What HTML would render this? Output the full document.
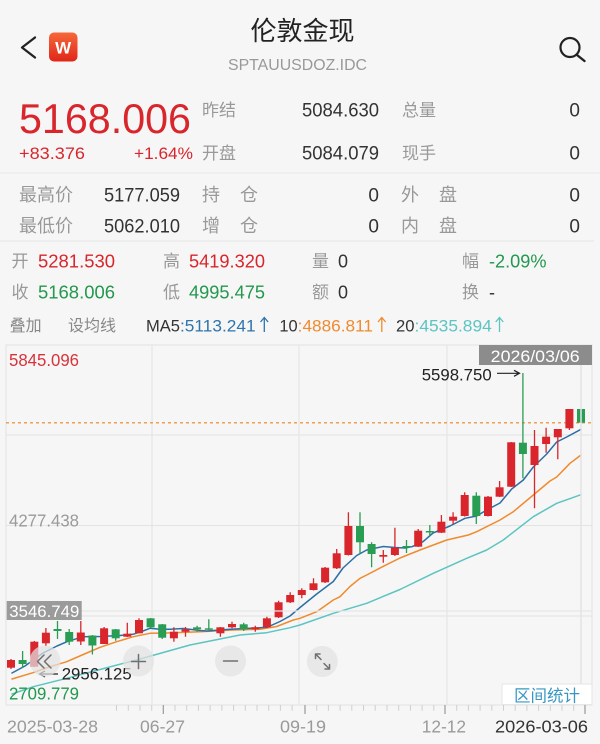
<!DOCTYPE html>
<html><head><meta charset="utf-8">
<style>
html,body{margin:0;padding:0;background:#f6f6f6;}
svg{display:block;}
text{font-family:"Liberation Sans","Noto Sans CJK SC",sans-serif;}
</style></head>
<body>
<svg width="600" height="744" viewBox="0 0 600 744" xmlns="http://www.w3.org/2000/svg">
<defs>
<linearGradient id="wg" x1="0" y1="0" x2="0" y2="1"><stop offset="0" stop-color="#f6683a"/><stop offset="1" stop-color="#e0261a"/></linearGradient>
</defs>
<rect width="600" height="744" fill="#f6f6f6"/>

<!-- header -->
<path d="M35,37.5 L22,47.5 L35,57.5" fill="none" stroke="#222" stroke-width="2.3" stroke-linecap="round" stroke-linejoin="round"/>
<rect x="49" y="32.5" width="28.5" height="29" rx="5" fill="url(#wg)"/>
<text x="63.2" y="53.5" font-size="17" font-weight="bold" fill="#fff" text-anchor="middle">W</text>
<text x="302.5" y="40" font-size="26" fill="#222" text-anchor="middle">伦敦金现</text>
<text x="228" y="70" font-size="16" fill="#999" textLength="139" lengthAdjust="spacingAndGlyphs">SPTAUUSDOZ.IDC</text>
<circle cx="570" cy="47.5" r="9.5" fill="none" stroke="#222" stroke-width="2.2"/>
<path d="M577,55 L584.5,61" stroke="#222" stroke-width="2.4" stroke-linecap="round"/>

<text x="19" y="133" font-size="42" fill="#d8262c" textLength="172" lengthAdjust="spacingAndGlyphs">5168.006</text>
<text x="19" y="159" font-size="17" fill="#d8262c" textLength="66" lengthAdjust="spacingAndGlyphs">+83.376</text>
<text x="134" y="159" font-size="17" fill="#d8262c" textLength="59" lengthAdjust="spacingAndGlyphs">+1.64%</text>
<text x="202" y="116" font-size="17" fill="#999">昨结</text>
<text x="202" y="159" font-size="17" fill="#999">开盘</text>
<text x="302" y="116.5" font-size="19" fill="#333" textLength="77" lengthAdjust="spacingAndGlyphs">5084.630</text>
<text x="302" y="159.5" font-size="19" fill="#333" textLength="77" lengthAdjust="spacingAndGlyphs">5084.079</text>
<text x="402" y="116" font-size="17" fill="#999">总量</text>
<text x="402" y="159" font-size="17" fill="#999">现手</text>
<text x="580" y="116.5" font-size="19" fill="#333" text-anchor="end">0</text>
<text x="580" y="159.5" font-size="19" fill="#333" text-anchor="end">0</text>
<line x1="0" y1="173" x2="600" y2="173" stroke="#e8e8e8" stroke-width="1"/>

<text x="19" y="201" font-size="18" fill="#999">最高价</text>
<text x="19" y="232" font-size="18" fill="#999">最低价</text>
<text x="104" y="201.5" font-size="19" fill="#333" textLength="76" lengthAdjust="spacingAndGlyphs">5177.059</text>
<text x="104" y="232.5" font-size="19" fill="#333" textLength="76" lengthAdjust="spacingAndGlyphs">5062.010</text>
<text x="202" y="201" font-size="18" fill="#999">持</text><text x="240" y="201" font-size="18" fill="#999">仓</text>
<text x="202" y="232" font-size="18" fill="#999">增</text><text x="240" y="232" font-size="18" fill="#999">仓</text>
<text x="379" y="201.5" font-size="19" fill="#333" text-anchor="end">0</text>
<text x="379" y="232.5" font-size="19" fill="#333" text-anchor="end">0</text>
<text x="401" y="201" font-size="18" fill="#999">外</text><text x="439" y="201" font-size="18" fill="#999">盘</text>
<text x="401" y="232" font-size="18" fill="#999">内</text><text x="439" y="232" font-size="18" fill="#999">盘</text>
<text x="580" y="201.5" font-size="19" fill="#333" text-anchor="end">0</text>
<text x="580" y="232.5" font-size="19" fill="#333" text-anchor="end">0</text>
<line x1="0" y1="241" x2="594" y2="241" stroke="#e6e6e6" stroke-width="1"/>

<text x="11.5" y="267" font-size="17" fill="#999">开</text>
<text x="38" y="267.7" font-size="18" fill="#d8262c" textLength="77" lengthAdjust="spacingAndGlyphs">5281.530</text>
<text x="163" y="267" font-size="17" fill="#999">高</text>
<text x="189" y="267.7" font-size="18" fill="#d8262c" textLength="76" lengthAdjust="spacingAndGlyphs">5419.320</text>
<text x="312" y="267" font-size="17" fill="#999">量</text>
<text x="338" y="267.7" font-size="18" fill="#333">0</text>
<text x="462" y="267" font-size="17" fill="#999">幅</text>
<text x="489" y="267.7" font-size="18" fill="#23984e" textLength="57.5" lengthAdjust="spacingAndGlyphs">-2.09%</text>

<text x="11.5" y="298" font-size="17" fill="#999">收</text>
<text x="38" y="298.7" font-size="18" fill="#23984e" textLength="77" lengthAdjust="spacingAndGlyphs">5168.006</text>
<text x="163" y="298" font-size="17" fill="#999">低</text>
<text x="189" y="298.7" font-size="18" fill="#23984e" textLength="76" lengthAdjust="spacingAndGlyphs">4995.475</text>
<text x="312" y="298" font-size="17" fill="#999">额</text>
<text x="338" y="298.7" font-size="18" fill="#333">0</text>
<text x="462" y="298" font-size="17" fill="#999">换</text>
<text x="489" y="298.7" font-size="18" fill="#333">-</text>

<text x="9.6" y="331" font-size="16" fill="#888">叠加</text>
<text x="68" y="331" font-size="16" fill="#888">设均线</text>
<text x="146" y="331.5" font-size="17" fill="#333" textLength="34" lengthAdjust="spacingAndGlyphs">MA5</text>
<text x="180" y="331.5" font-size="17" fill="#2f74ad" textLength="75.6" lengthAdjust="spacingAndGlyphs">:5113.241</text>
<path d="M264.3,332 V318 M260.5,322 L264.3,317.5 L268.1,322" fill="none" stroke="#2f74ad" stroke-width="1.3"/>
<text x="279.4" y="331.5" font-size="17" fill="#333" textLength="18.3" lengthAdjust="spacingAndGlyphs">10</text>
<text x="297.7" y="331.5" font-size="17" fill="#f08a2e" textLength="75.3" lengthAdjust="spacingAndGlyphs">:4886.811</text>
<path d="M381.8,332 V318 M378,322 L381.8,317.5 L385.6,322" fill="none" stroke="#f08a2e" stroke-width="1.3"/>
<text x="396" y="331.5" font-size="17" fill="#333" textLength="18.5" lengthAdjust="spacingAndGlyphs">20</text>
<text x="414.5" y="331.5" font-size="17" fill="#5cc4c1" textLength="77.3" lengthAdjust="spacingAndGlyphs">:4535.894</text>
<path d="M499.5,332 V318 M495.7,322 L499.5,317.5 L503.3,322" fill="none" stroke="#5cc4c1" stroke-width="1.3"/>

<!-- chart frame & grid -->
<g stroke="#e3e3e3" stroke-width="1" fill="none">
<rect x="6" y="345" width="586" height="360"/>
<line x1="6" y1="435" x2="592" y2="435"/>
<line x1="6" y1="525.5" x2="592" y2="525.5"/>
<line x1="6" y1="616" x2="592" y2="616"/>
<line x1="152" y1="345" x2="152" y2="705"/>
<line x1="299" y1="345" x2="299" y2="705"/>
<line x1="447" y1="345" x2="447" y2="705"/>
</g>
<line x1="6" y1="422.7" x2="592" y2="422.7" stroke="#f0a050" stroke-width="1.5" stroke-dasharray="3,3"/>

<!-- MA lines -->
<g fill="none" stroke-width="1.5" stroke-linejoin="round" stroke-linecap="round">
<polyline stroke="#5cc4c1" points="12,694 33.3,686.7 66.7,678.3 100,669.5 140,659 190,645 240,635 266.7,632.7 290,627.7 300,625 333.3,613.3 366.7,603.3 400,589.5 433.3,573.3 466.7,558.3 486.7,550 503.3,540 533.3,516.7 556.7,503.3 581,494.7"/>
<polyline stroke="#f08a2e" points="12,679 33,672.7 50,666.7 66.7,661.7 83.3,654.5 100,647.3 116.7,641.7 133.3,636.7 150,633.3 166.7,633 200,631.7 233,630 260,629.3 276.7,626.5 293.3,620 300,618.3 316.7,611.7 333.3,600 340,596.7 350,586.5 360,578.3 366.7,575 383.3,566.3 400,558 420,550 446.7,540 468.3,535 476.7,531.7 500,520 513.3,511.7 533.3,495 550,481 556.7,477 570,463.3 581,455"/>
<polyline stroke="#2c6fa6" points="12,673 25,666 43,653 57,646 67,641.7 83,636.7 100,636.5 120,635.5 133,634.3 143,631 150,628.3 160,629.3 170,629.3 183,628.5 200,630.5 207,631 230,629.3 250,628.3 267,627.3 280,621.5 290,616 300,607.5 316.7,594 333.3,581.5 343,568 356.7,555.5 366.7,550 383.3,546.5 395,547.5 405,548 412,546.7 423,541.7 433,533 450,526 465,518.3 476.7,516 486.7,510 500,503 511.7,489 523.3,480 533.3,467 546.7,454 556.7,442 566.7,437 581,429.3"/>
</g>

<!-- red candles -->
<g stroke="#d8262c" stroke-width="1.3">
<path d="M11,659V669 M34.3,641V667 M45.9,628V646 M80.8,621V645 M104.1,627V644 M127.3,622.7V637 M139,618.3V633.5 M173.9,627.3V641.7 M185.5,627V636.7 M220.4,627V636.7 M232,621.7V628.3 M255.3,625.7V631.7 M266.9,616.7V628 M278.6,600.7V618 M290.2,592.3V603 M301.8,588.3V598.3 M313.5,578.3V590.5 M325.1,567V583 M336.7,549V569 M348.4,512.3V555.5 M383.3,550V562.7 M394.9,527.7V556 M418.2,529V547 M441.4,515V533 M453.1,512.3V524 M464.7,492.3V516.5 M488,496V516.5 M499.6,481V497 M511.2,442V487 M534.5,430V508.3 M546.1,427.7V452.7 M557.8,429V459.3 M569.4,409V430"/>
</g>
<g fill="#d8262c">
<rect x="7" y="660" width="8" height="7.7"/>
<rect x="30.3" y="641.7" width="8" height="25"/>
<rect x="41.9" y="632.7" width="8" height="10.6"/>
<rect x="76.8" y="632.5" width="8" height="9"/>
<rect x="100.1" y="628.3" width="8" height="15.7"/>
<rect x="123.3" y="633.7" width="8" height="3"/>
<rect x="135" y="620" width="8" height="13.3"/>
<rect x="169.9" y="631.7" width="8" height="6.6"/>
<rect x="181.5" y="629.3" width="8" height="2.4"/>
<rect x="216.4" y="627.3" width="8" height="6"/>
<rect x="228" y="624" width="8" height="3.3"/>
<rect x="251.3" y="627.3" width="8" height="2"/>
<rect x="262.9" y="618.3" width="8" height="9"/>
<rect x="274.6" y="602.3" width="8" height="15"/>
<rect x="286.2" y="595" width="8" height="7.3"/>
<rect x="297.8" y="590" width="8" height="5"/>
<rect x="309.5" y="583.3" width="8" height="6.7"/>
<rect x="321.1" y="567.7" width="8" height="14.6"/>
<rect x="332.7" y="553.3" width="8" height="15"/>
<rect x="344.4" y="526" width="8" height="29"/>
<rect x="379.3" y="555" width="8" height="1.7"/>
<rect x="390.9" y="547.7" width="8" height="7.3"/>
<rect x="414.2" y="530.7" width="8" height="16"/>
<rect x="437.4" y="521.7" width="8" height="11"/>
<rect x="449.1" y="516.7" width="8" height="4"/>
<rect x="460.7" y="495" width="8" height="21"/>
<rect x="484" y="496.7" width="8" height="19.3"/>
<rect x="495.6" y="487.3" width="8" height="9.4"/>
<rect x="507.2" y="442.3" width="8" height="44.4"/>
<rect x="530.5" y="446" width="8" height="19"/>
<rect x="542.1" y="436.7" width="8" height="7.3"/>
<rect x="553.8" y="429" width="8" height="8.3"/>
<rect x="565.4" y="409" width="8" height="19.3"/>
</g>

<!-- green candles -->
<g stroke="#2a9d55" stroke-width="1.3">
<path d="M22.6,651V668 M57.5,621V639 M69.2,629V645 M92.4,635V654.5 M115.7,629V640.7 M150.6,618V628 M162.2,624V639 M197.1,625.7V631.7 M208.8,619.3V630 M243.7,622.7V631 M360,512.3V553.3 M371.6,542.3V567.3 M406.5,540V553 M429.8,525V536 M476.3,492.3V524 M522.9,373V478.3 M581,409V423"/>
</g>
<g fill="#2a9d55">
<rect x="18.6" y="660" width="8" height="4"/>
<rect x="53.5" y="629" width="8" height="2"/>
<rect x="65.2" y="632" width="8" height="9.7"/>
<rect x="88.4" y="635.5" width="8" height="10"/>
<rect x="111.7" y="629.3" width="8" height="9"/>
<rect x="146.6" y="618.3" width="8" height="9"/>
<rect x="158.2" y="624.3" width="8" height="13.4"/>
<rect x="193.1" y="627.3" width="8" height="2"/>
<rect x="204.8" y="628.3" width="8" height="1.5"/>
<rect x="239.7" y="624.3" width="8" height="5"/>
<rect x="356" y="526" width="8" height="16.3"/>
<rect x="367.6" y="544" width="8" height="10"/>
<rect x="402.5" y="546" width="8" height="1.5"/>
<rect x="425.8" y="531" width="8" height="1.5"/>
<rect x="472.3" y="495.7" width="8" height="20.3"/>
<rect x="518.9" y="442.7" width="8" height="11.3"/>
<rect x="577" y="409" width="8" height="13.7"/>
</g>

<!-- overlay lines -->
<line x1="6" y1="611" x2="592" y2="611" stroke="#e6e6e6" stroke-width="1.2"/>
<line x1="581" y1="345" x2="581" y2="705" stroke="#e4e4e4" stroke-width="1.5"/>

<!-- price labels -->
<text x="9" y="366" font-size="17.5" fill="#d8333a" textLength="70" lengthAdjust="spacingAndGlyphs">5845.096</text>
<text x="9" y="526.5" font-size="17.5" fill="#9a9a9a" textLength="70" lengthAdjust="spacingAndGlyphs">4277.438</text>
<rect x="6.7" y="601" width="75" height="19" fill="#9b9b9b"/>
<text x="9.3" y="617" font-size="17" fill="#fff" textLength="70" lengthAdjust="spacingAndGlyphs">3546.749</text>
<text x="9" y="699.3" font-size="17.5" fill="#23984e" textLength="70" lengthAdjust="spacingAndGlyphs">2709.779</text>

<rect x="479" y="345" width="113" height="20" fill="#8c8c8c"/>
<text x="490.7" y="362" font-size="17" fill="#fff" textLength="89" lengthAdjust="spacingAndGlyphs">2026/03/06</text>

<text x="421.7" y="380.5" font-size="17" fill="#222" textLength="70" lengthAdjust="spacingAndGlyphs">5598.750</text>
<path d="M497,373.3 H519 M514,370.3 L519.5,373.3 L514,376.3" fill="none" stroke="#222" stroke-width="1.2"/>

<path d="M58,674 H40 M45,671 L39.5,674 L45,677" fill="none" stroke="#222" stroke-width="1.2"/>
<text x="61.7" y="679.3" font-size="17" fill="#222" textLength="70" lengthAdjust="spacingAndGlyphs">2956.125</text>

<!-- buttons -->
<g fill="rgba(226,226,226,0.72)">
<circle cx="45" cy="661" r="15.5"/>
<circle cx="138.5" cy="661" r="15.5"/>
<circle cx="230.5" cy="661" r="15.5"/>
<circle cx="322.3" cy="661.5" r="15.5"/>
</g>
<g fill="none" stroke="#707070" stroke-width="1.5" stroke-linecap="round" stroke-linejoin="round">
<path d="M44,655 L37.5,661.5 L44,668 M51,655 L44.5,661.5 L51,668"/>
<path d="M131.5,661.5 H145.5 M138.5,654.5 V668.5"/>
<path d="M223.5,661 H237.5"/>
<path d="M315.5,658.5 V654 H320 M315.5,654 L321,659.5 M329.5,664.5 V669 H325 M329.5,669 L324,663.5"/>
</g>

<!-- 区间统计 -->
<rect x="502" y="684" width="90" height="20.5" fill="#ffffff" stroke="#e6e6e6" stroke-width="1"/>
<text x="514" y="701.5" font-size="16.5" fill="#3797c2" textLength="66" lengthAdjust="spacingAndGlyphs">区间统计</text>

<!-- x axis ticks -->
<g stroke="#cfcfcf" stroke-width="1">
<path d="M116.5,705V710.7 M128.3,705V710.7 M140,705V710.7 M151.7,705V710.7 M175,705V710.7 M186.7,705V710.7 M198.4,705V710.7 M210.1,705V710.7 M221.9,705V710.7 M233.6,705V710.7 M245.3,705V710.7 M257,705V710.7 M268.7,705V710.7 M280.4,705V710.7 M292.1,705V710.7 M316.7,705V710.7 M328.4,705V710.7 M340.1,705V710.7 M351.8,705V710.7 M363.5,705V710.7 M375.2,705V710.7 M387,705V710.7 M398.7,705V710.7 M410.4,705V710.7 M422.1,705V710.7 M433.8,705V710.7 M456.7,705V710.7 M468.4,705V710.7 M480.1,705V710.7 M491.8,705V710.7 M503.5,705V710.7 M515.2,705V710.7 M526.9,705V710.7 M538.6,705V710.7 M550.3,705V710.7 M562,705V710.7 M573.7,705V710.7"/>
</g>
<g stroke="#9a9a9a" stroke-width="1.2">
<path d="M163.3,705V714 M305,705V714 M445,705V714 M585,705V714"/>
</g>

<text x="7" y="732.7" font-size="17.5" fill="#9a9a9a" textLength="91" lengthAdjust="spacingAndGlyphs">2025-03-28</text>
<text x="140" y="732.7" font-size="17.5" fill="#9a9a9a" textLength="45" lengthAdjust="spacingAndGlyphs">06-27</text>
<text x="280" y="732.7" font-size="17.5" fill="#9a9a9a" textLength="46" lengthAdjust="spacingAndGlyphs">09-19</text>
<text x="421.7" y="732.7" font-size="17.5" fill="#9a9a9a" textLength="44.3" lengthAdjust="spacingAndGlyphs">12-12</text>
<text x="495" y="732.7" font-size="17.5" fill="#333" textLength="93" lengthAdjust="spacingAndGlyphs">2026-03-06</text>
</svg>
</body></html>
